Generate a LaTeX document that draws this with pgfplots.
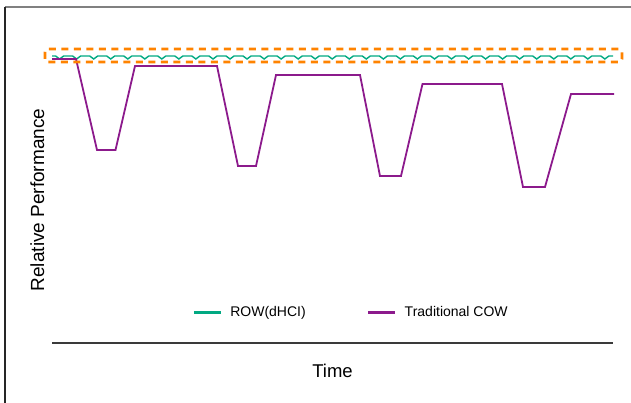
\documentclass[border=0pt]{standalone}
\usepackage{pgfplots}
\pgfplotsset{compat=1.18}
\usepackage{fontspec}
\setmainfont{Liberation Sans}
\definecolor{rowgreen}{HTML}{01A982}
\definecolor{cowpurple}{HTML}{8C1A8C}
\definecolor{boxorange}{HTML}{FF8300}
\definecolor{axisgray}{HTML}{3A3A3A}

\begin{document}
\begin{tikzpicture}
  \useasboundingbox (0,0) rectangle (631pt,-403pt);
  % frame of the slide
  \draw[gray, line width=1.5pt] (5pt,-7pt) -- (631pt,-7pt);
  \draw[black!85, line width=1.5pt] (5pt,-7pt) -- (5pt,-403pt);
  \begin{axis}[
      at={(52pt,-343pt)}, anchor=south west,
      scale only axis, width=561pt, height=303pt,
      xmin=0, xmax=561, ymin=0, ymax=303,
      axis x line=bottom, axis y line=left,
      axis line style={-},
      x axis line style={line width=2.5pt, color=axisgray},
      y axis line style={draw=none},
      xtick=\empty, ytick=\empty,
      clip=false,
      xlabel={Time},
      xlabel style={at={(axis cs:280.5,-34)}, anchor=base, font=\fontsize{18.5}{20}\selectfont},
      ylabel={Relative Performance},
      ylabel style={at={(axis cs:-8,143)}, anchor=base, font=\fontsize{19}{21}\selectfont},
      legend columns=2,
      legend style={at={(axis cs:298,31)}, anchor=center, draw=none, fill=none,
        inner sep=0pt, nodes={inner sep=0pt}, font=\fontsize{14}{16}\selectfont},
      /tikz/every odd column/.append style={column sep=8pt},
      /tikz/every even column/.append style={column sep=61pt},
      legend image code/.code={\draw[#1, line width=3pt] (0pt,0pt) -- (27pt,0pt);},
    ]
    \addplot[rowgreen, line width=1.4pt] coordinates {
      (0,287)
      (3.6,287)(7.6,284)(11.6,287)
      (20.6,287)(24.6,284)(28.6,287)
      (37.7,287)(41.7,284)(45.7,287)
      (54.7,287)(58.7,284)(62.7,287)
      (71.8,287)(75.8,284)(79.8,287)
      (88.8,287)(92.8,284)(96.8,287)
      (105.8,287)(109.8,284)(113.8,287)
      (122.9,287)(126.9,284)(130.9,287)
      (139.9,287)(143.9,284)(147.9,287)
      (157.0,287)(161.0,284)(165.0,287)
      (174.0,287)(178.0,284)(182.0,287)
      (191.0,287)(195.0,284)(199.0,287)
      (208.1,287)(212.1,284)(216.1,287)
      (225.1,287)(229.1,284)(233.1,287)
      (242.2,287)(246.2,284)(250.2,287)
      (259.2,287)(263.2,284)(267.2,287)
      (276.2,287)(280.2,284)(284.2,287)
      (293.3,287)(297.3,284)(301.3,287)
      (310.3,287)(314.3,284)(318.3,287)
      (327.4,287)(331.4,284)(335.4,287)
      (344.4,287)(348.4,284)(352.4,287)
      (361.4,287)(365.4,284)(369.4,287)
      (378.5,287)(382.5,284)(386.5,287)
      (395.5,287)(399.5,284)(403.5,287)
      (412.6,287)(416.6,284)(420.6,287)
      (429.6,287)(433.6,284)(437.6,287)
      (446.6,287)(450.6,284)(454.6,287)
      (463.7,287)(467.7,284)(471.7,287)
      (480.7,287)(484.7,284)(488.7,287)
      (497.8,287)(501.8,284)(505.8,287)
      (514.8,287)(518.8,284)(522.8,287)
      (531.8,287)(535.8,284)(539.8,287)
      (548.9,287)(552.9,284)(556.9,287)
      (561,287)
    };
    \addlegendentry{ROW(dHCI)}
    \addplot[cowpurple, line width=1.8pt] coordinates {
      (0,284)(24,284)(45,193)(63.5,193)(83,277)(165,277)
      (186,177)(204,177)(224,268)(308,268)(328,167)(349,167)
      (370.5,259)(450,259)(471,156)(493,156)(519,249)(562,249)
    };
    \addlegendentry{Traditional COW}
    \draw[boxorange, line width=2.6pt, dash pattern=on 7pt off 5.5pt, rounded corners=3pt]
      (axis cs:-7,281) rectangle (axis cs:570,294);
  \end{axis}
\end{tikzpicture}
\end{document}
